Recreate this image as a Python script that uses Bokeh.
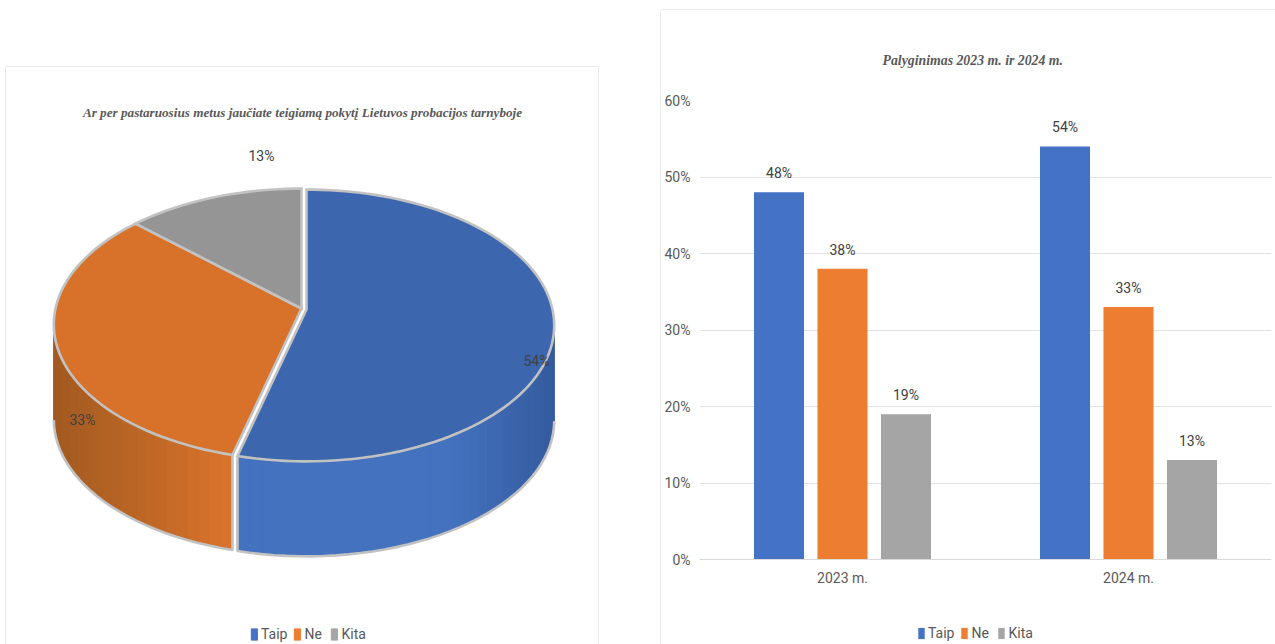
import math
from bokeh.plotting import figure
from bokeh.layouts import row
from bokeh.models import (ColumnDataSource, FactorRange, FixedTicker, Legend,
                          LegendItem, PrintfTickFormatter, Range1d, Title)
from bokeh.core.properties import value
from bokeh.transform import dodge
from bokeh.embed import file_html
from bokeh.resources import INLINE

series_names = ["Taip", "Ne", "Kita"]
pie_values = [54, 33, 13]
years = ["2023 m.", "2024 m."]
bar_taip = [48, 54]
bar_ne = [38, 33]
bar_kita = [19, 13]
y_ticks = [0, 10, 20, 30, 40, 50, 60]

title_left = "Ar per pastaruosius metus jaučiate teigiamą pokytį Lietuvos probacijos tarnyboje"
title_right = "Palyginimas 2023 m. ir 2024 m."

legend_colors = ["#4472C4", "#ED7D31", "#A5A5A5"]
top_colors = ["#3C66AE", "#D8722A", "#959595"]
wall_ramps = [[(240, "#4472BF"), (450, "#4472BF"), (554, "#345A9E")],
              [(54, "#A25A20"), (233, "#DA742C"), (240, "#DA742C")],
              [(0, "#808080"), (600, "#808080")]]
RIM = "#C2C2C2"
TEXT = "#595959"
LABEL_FONT = "Roboto"
LABEL_SIZE = "14px"
TITLE_FONT = "Liberation Serif"
BORDER = "#EBEBEB"

# pie geometry: x/y ranges of the left figure equal page pixels
CX, CY, RX, AY, K, DEPTH = 303.0, 308.0, 246.0, 134.0, 0.1176, 95.0
shift = [(3.0, 1.0), (-2.0, 0.0), (-2.0, 0.0)]


def rim(theta, dx, dy):
    u, v = math.sin(theta), math.cos(theta)
    s = 1 + K * v
    return CX + dx + RX * u / s, CY + dy - AY * v / s


def hex_mix(a, b, t):
    ca = [int(a[i:i + 2], 16) for i in (1, 3, 5)]
    cb = [int(b[i:i + 2], 16) for i in (1, 3, 5)]
    return "#%02x%02x%02x" % tuple(round(p + (q - p) * t) for p, q in zip(ca, cb))


def ramp(stops, x):
    if x <= stops[0][0]:
        return stops[0][1]
    for (x0, c0), (x1, c1) in zip(stops, stops[1:]):
        if x <= x1:
            return hex_mix(c0, c1, (x - x0) / (x1 - x0))
    return stops[-1][1]


total = sum(pie_values)
edges = [0.0]
for val in pie_values:
    edges.append(edges[-1] + val / total * 2 * math.pi)

FRAME_TOP = 135
left = figure(width=592, height=577, x_range=Range1d(6, 598), y_range=Range1d(644, FRAME_TOP),
              output_backend="svg", toolbar_location=None, tools="", margin=(67, 63, 0, 6),
              min_border_left=0, min_border_right=0, min_border_bottom=0, min_border_top=FRAME_TOP - 67,
              frame_align=False,
              styles={"box-shadow": f"0 -1px 0 {BORDER}, -1px 0 0 {BORDER}, 1px 0 0 {BORDER}"})
left.xaxis.visible = False
left.yaxis.visible = False
left.grid.visible = False
left.outline_line_color = None
left.title = Title(text=title_left, align="center", standoff=32, text_font=TITLE_FONT,
                   text_font_style="bold italic", text_font_size="13.2px", text_color=TEXT)

# outer walls of the slices
strip_x, strip_y, strip_c = [], [], []
edge_x, edge_y = [], []
VIS0, VIS1 = math.radians(97), math.radians(263)
for i in range(len(pie_values)):
    a, b = max(edges[i], VIS0), min(edges[i + 1], VIS1)
    if b <= a:
        continue
    dx, dy = shift[i]
    n = max(2, int((b - a) / math.radians(2.5)))
    pts = [rim(a + (b - a) * j / n, dx, dy) for j in range(n + 1)]
    for p0, p1 in zip(pts, pts[1:]):
        strip_x.append([p0[0], p1[0], p1[0], p0[0]])
        strip_y.append([p0[1], p1[1], p1[1] + DEPTH, p0[1] + DEPTH])
        strip_c.append(ramp(wall_ramps[i], (p0[0] + p1[0]) / 2))
    low_x = [p[0] for p in pts]
    low_y = [p[1] + DEPTH for p in pts]
    if edges[i] >= VIS0:   # cut face at the start of the slice
        low_x = [pts[0][0]] + low_x
        low_y = [pts[0][1]] + low_y
    if edges[i + 1] <= VIS1:   # cut face at the end of the slice
        low_x = low_x + [pts[-1][0]]
        low_y = low_y + [pts[-1][1]]
    edge_x.append(low_x)
    edge_y.append(low_y)

left.patches(strip_x, strip_y, fill_color=strip_c, line_color=strip_c, line_width=1)
left.multi_line(edge_x, edge_y, line_color=RIM, line_width=2.6)

# top faces
face_x, face_y = [], []
for i in range(len(pie_values)):
    dx, dy = shift[i]
    n = max(3, int((edges[i + 1] - edges[i]) / math.radians(2)))
    pts = [rim(edges[i] + (edges[i + 1] - edges[i]) * j / n, dx, dy) for j in range(n + 1)]
    face_x.append([CX + dx] + [p[0] for p in pts])
    face_y.append([CY + dy] + [p[1] for p in pts])
left.patches(face_x, face_y, fill_color=top_colors, line_color=RIM, line_width=2.6, line_join="miter")

# slice labels
pie_label_x = [536, 82, 261]
pie_label_y = [360, 419, 155]
left.text(pie_label_x, pie_label_y, text=[f"{v}%" for v in pie_values], text_align="center",
          text_baseline="middle", text_font=value(LABEL_FONT), text_font_size=LABEL_SIZE, text_color="#404040")

# legend swatches
nan = float("nan")
items = []
for name, c in zip(series_names, legend_colors):
    r = left.vbar(x=[nan], top=[nan], width=1, fill_color=c, line_color=c)
    items.append(LegendItem(label=value(name), renderers=[r]))
leg = Legend(items=items, orientation="horizontal", location=(242, 0), glyph_width=8, glyph_height=14,
             label_text_font=LABEL_FONT, label_text_font_size=LABEL_SIZE, label_text_color=TEXT,
             border_line_alpha=0, background_fill_alpha=0, spacing=6, padding=2, margin=0,
             label_standoff=3, label_height=14)
left.add_layout(leg, "center")

# ---------- right: grouped bars ----------
right = figure(width=614, height=634, x_range=FactorRange(factors=years), y_range=Range1d(-11.1, 60),
               output_backend="svg", toolbar_location=None, tools="", margin=(10, 0, 0, 0),
               min_border_left=38, min_border_right=4, min_border_top=90, min_border_bottom=0,
               frame_align=False,
               styles={"box-shadow": f"0 -1px 0 {BORDER}, -1px 0 0 {BORDER}"})
right.outline_line_color = None
right.title = Title(text=title_right, align="left", offset=183, standoff=66, text_font=TITLE_FONT,
                    text_font_style="bold italic", text_font_size="13.8px", text_color=TEXT)
right.yaxis.ticker = FixedTicker(ticks=y_ticks)
right.yaxis.formatter = PrintfTickFormatter(format="%d%%")
right.yaxis.axis_line_color = None
right.yaxis.major_tick_line_color = None
right.yaxis.minor_tick_line_color = None
right.yaxis.major_label_text_font = LABEL_FONT
right.yaxis.major_label_text_font_size = LABEL_SIZE
right.yaxis.major_label_text_color = TEXT
right.yaxis.major_label_standoff = 3
right.xaxis.fixed_location = 0
right.xaxis.axis_line_color = "#D9D9D9"
right.xaxis.major_tick_line_color = None
right.xaxis.minor_tick_line_color = None
right.xaxis.major_label_text_font = LABEL_FONT
right.xaxis.major_label_text_font_size = LABEL_SIZE
right.xaxis.major_label_text_color = TEXT
right.xaxis.major_label_standoff = 4
right.xgrid.visible = False
right.ygrid.grid_line_color = "#E2E2E2"
right.ygrid.grid_line_width = 1

src = ColumnDataSource(dict(year=years, Taip=bar_taip, Ne=bar_ne, Kita=bar_kita))
BAR_W, STEP = 0.175, 0.222
bar_items = []
for col, c, off in zip(series_names, legend_colors, (-STEP, 0, STEP)):
    r = right.vbar(x=dodge("year", off, range=right.x_range), top=col, width=BAR_W, source=src,
                   fill_color=c, line_color=None)
    bar_items.append(LegendItem(label=value(col), renderers=[r]))
    lab = ColumnDataSource(dict(year=years, y=src.data[col], t=[f"{v}%" for v in src.data[col]]))
    right.text(x=dodge("year", off, range=right.x_range), y="y", text="t", source=lab, text_align="center",
               text_baseline="middle", y_offset=-19, text_font=value(LABEL_FONT), text_font_size=LABEL_SIZE,
               text_color="#404040")

leg2 = Legend(items=bar_items, orientation="horizontal", location=(216, 1), glyph_width=8, glyph_height=14,
              label_text_font=LABEL_FONT, label_text_font_size=LABEL_SIZE, label_text_color=TEXT,
              border_line_alpha=0, background_fill_alpha=0, spacing=6, padding=2, margin=0,
              label_standoff=3, label_height=14)
right.add_layout(leg2, "center")

page = row(left, right)
open("out.html", "w").write(file_html(page, INLINE))
